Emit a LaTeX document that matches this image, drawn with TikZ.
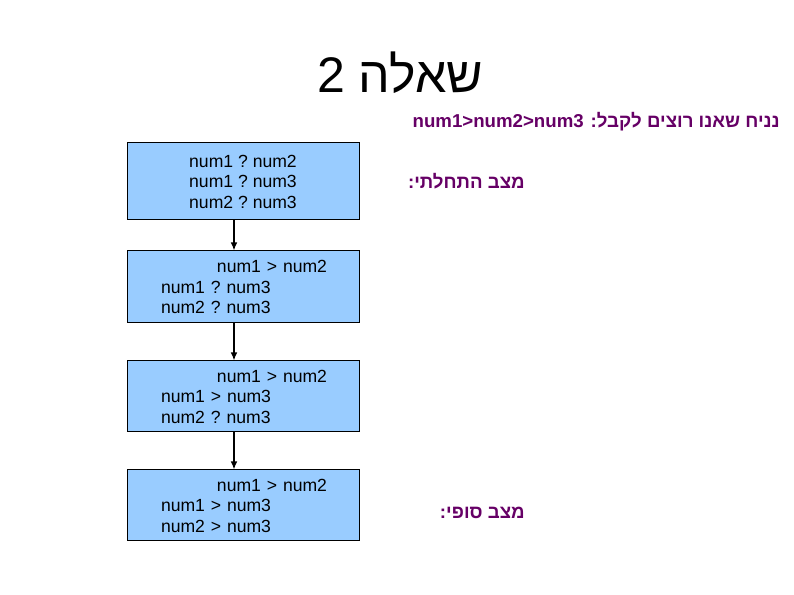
\documentclass[tikz,border=0pt]{standalone}
\usepackage{fontspec}
\setmainfont{Liberation Sans}
\newfontfamily\hebfont[Script=Hebrew]{Liberation Sans}
\TeXXeTstate=1
\definecolor{boxblue}{HTML}{99CCFF}
\definecolor{hebpurple}{HTML}{660066}
\usetikzlibrary{arrows.meta}
\tikzset{
  stagebox/.style={draw=black, line width=0.75pt, fill=boxblue, minimum width=174pt, font=\frenchspacing\fontsize{13.2pt}{15.4pt}\selectfont},
  leftbox/.style={stagebox, align=left, text width=123pt, inner xsep=25.5pt},
  flow/.style={-{Latex[length=6pt,width=5pt]}, line width=1.1pt},
  heblabel/.style={text=hebpurple, font=\hebfont\bfseries\fontsize{14pt}{16pt}\selectfont, inner sep=0pt}
}
\begin{document}
\begin{tikzpicture}[x=0.75pt,y=-0.75pt]
\useasboundingbox (0,0) rectangle (794,595);
\node[font=\hebfont\fontsize{37.5pt}{40pt}\selectfont, inner sep=0pt] (title) at (400,73) {\beginR שאלה 2\endR};
\node[heblabel, anchor=east] (goal) at (780,122) {\beginR נניח שאנו רוצים לקבל: \beginL num1>num2>num3\endL{}\endR};
\node[stagebox, minimum height=57.75pt, align=center] (b1) at (243,181.5) {num1 ? num2\\num1 ? num3\\num2 ? num3};
\node[leftbox, minimum height=54pt] (b2) at (243,287) {\hspace*{42pt}\mbox{num1 > num2}\\num1 ? num3\\num2 ? num3};
\node[leftbox, minimum height=53.25pt] (b3) at (243,396.5) {\hspace*{42pt}\mbox{num1 > num2}\\num1 > num3\\num2 ? num3};
\node[leftbox, minimum height=53.25pt] (b4) at (243,505.5) {\hspace*{42pt}\mbox{num1 > num2}\\num1 > num3\\num2 > num3};
\draw[flow] (b1.south -| 234,0) -- (b2.north -| 234,0);
\draw[flow] (b2.south -| 234,0) -- (b3.north -| 234,0);
\draw[flow] (b3.south -| 234,0) -- (b4.north -| 234,0);
\node[heblabel, anchor=east] (start) at (525,181) {\beginR מצב התחלתי:\endR};
\node[heblabel, anchor=east] (final) at (525,513) {\beginR מצב סופי:\endR};
\end{tikzpicture}
\end{document}
